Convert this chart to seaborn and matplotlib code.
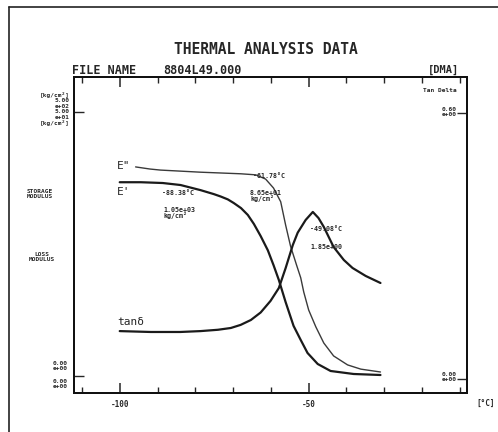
import matplotlib
matplotlib.use("Agg")
import matplotlib.pyplot as plt
import seaborn as sns
import pandas as pd
from matplotlib.lines import Line2D

# ---- data ----
temp_e1 = [-100, -94.4, -88.6, -83.9, -78.6, -75.1, -73.3, -71.4, -69.8, -67.9, -66.1, -64.5,
           -62.7, -60.8, -59.3, -57.9, -56.1, -54.0, -52.1, -50.3, -47.6, -44.2, -38.1, -31.0]
storage_mod = [367, 367, 365.5, 361.7, 352, 344.5, 340, 334.5, 327.5, 318, 305, 288,
               265, 238, 210, 182, 140, 95, 68.2, 43.6, 22.7, 9.5, 3.8, 1.9]

temp_e2 = [-95.8, -92.0, -89.2, -78.6, -68.0, -64.0, -61.4, -59.3, -57.4, -56.1, -54.8, -53.2,
           -52.1, -51.3, -50.0, -48.1, -46.0, -43.4, -39.7, -36.2, -31.0]
loss_mod = [39.6, 39.2, 39.0, 38.6, 38.3, 38.1, 37.3, 35.6, 33.0, 28.6, 24.6, 21.0,
            18.6, 15.9, 12.5, 9.3, 6.25, 3.8, 2.1, 1.3, 0.76]

temp_tan = [-100, -91.8, -84.0, -78.6, -74.0, -70.6, -68.0, -65.3, -62.7, -60.1, -57.9, -56.1,
            -54.2, -52.9, -50.8, -48.9, -47.4, -46.0, -43.4, -40.7, -38.4, -34.9, -31.0]
tan_delta = [0.108, 0.106, 0.106, 0.108, 0.111, 0.115, 0.122, 0.133, 0.150, 0.176, 0.205, 0.250,
             0.302, 0.330, 0.3586, 0.3767, 0.363, 0.343, 0.2977, 0.2684, 0.2504, 0.2323, 0.2165]

x_major = [-100, -50]
x_major_labels = ["-100", "-50"]
x_minor = [-110, -90, -80, -70, -60, -40, -30, -20, -10]

# ---- style ----
sns.set_style("white")
plt.rcParams["font.family"] = ["DejaVu Sans Mono", "DejaVu Sans"]
plt.rcParams["font.weight"] = "bold"

W, H = 498, 432
fig = plt.figure(figsize=(W / 100, H / 100), dpi=100)
ax = fig.add_axes([74 / W, 1 - 393 / H, (467 - 74) / W, (393 - 77) / H])
ax2 = ax.twinx()
ax3 = ax.twinx()

def P(x, y):
    return x / W, 1 - y / H

df1 = pd.DataFrame({"T": temp_e1, "v": storage_mod})
df2 = pd.DataFrame({"T": temp_e2, "v": loss_mod})
df3 = pd.DataFrame({"T": temp_tan, "v": tan_delta})

sns.lineplot(data=df1, x="T", y="v", ax=ax, color="#1a1a1a", lw=1.6)
sns.lineplot(data=df2, x="T", y="v", ax=ax2, color="#3a3a3a", lw=1.0)
sns.lineplot(data=df3, x="T", y="v", ax=ax3, color="#1a1a1a", lw=1.6)

xl = (-112.1, -8.1)
for a in (ax, ax2, ax3):
    a.set_xlim(*xl)
    a.set_xlabel("")
    a.set_ylabel("")
ax.set_ylim(-32.2, 566.3)
ax2.set_ylim(-3.22, 56.63)
ax3.set_ylim(-0.0316, 0.681)

ax.set_xticks(x_major)
ax.set_xticklabels(x_major_labels, fontsize=5.5, fontweight="bold")
ax.set_xticks(x_minor, minor=True)
ax.tick_params(axis="x", which="major", direction="in", length=7, width=1.1, top=True, bottom=True, pad=5)
ax.tick_params(axis="x", which="minor", direction="in", length=4, width=1, top=True, bottom=True)
ax.set_yticks([0, 500])
ax.set_yticklabels(["", ""])
ax.tick_params(axis="y", direction="in", length=7, width=1, left=True, right=False)
ax2.set_yticks([])
ax3.set_yticks([0, 0.6])
ax3.set_yticklabels(["", ""])
ax3.tick_params(axis="y", direction="in", length=7, width=1, right=True, left=False)

for a in (ax, ax2, ax3):
    for s in a.spines.values():
        s.set_linewidth(1.3)
        s.set_color("#111111")

# outer border
fig.add_artist(Line2D([9 / W, 9 / W], [0, 1 - 7 / H], transform=fig.transFigure, color="#222222", lw=1.2))
fig.add_artist(Line2D([9 / W, 1], [1 - 7 / H, 1 - 7 / H], transform=fig.transFigure, color="#222222", lw=1.2))

# ---- texts ----
fig.text(*P(266, 50), "THERMAL ANALYSIS DATA", ha="center", va="center", fontsize=10.5, fontweight="bold")
fig.text(*P(72, 70), "FILE NAME", ha="left", va="center", fontsize=8.5, fontweight="bold")
fig.text(*P(163, 70), "8804L49.000", ha="left", va="center", fontsize=8.5, fontweight="bold")
fig.text(*P(443, 70), "[DMA]", ha="center", va="center", fontsize=7.5, fontweight="bold")
fig.text(*P(486, 403), "[°C]", ha="center", va="center", fontsize=5.5, fontweight="bold")

small = dict(fontsize=4.4, fontweight="bold", linespacing=1.1)
fig.text(*P(70, 109), "[kg/cm²]\n5.00\ne+02\n5.00\ne+01\n[kg/cm²]", ha="right", va="center", multialignment="right", **small)
fig.text(*P(40, 194), "STORAGE\nMODULUS", ha="center", va="center", **small)
fig.text(*P(42, 257), "LOSS\nMODULUS", ha="center", va="center", **small)
fig.text(*P(68, 366), "0.00\ne+00", ha="right", va="center", multialignment="right", **small)
fig.text(*P(68, 384), "0.00\ne+00", ha="right", va="center", multialignment="right", **small)
fig.text(*P(457, 90), "Tan Delta", ha="right", va="center", **small)
fig.text(*P(457, 112), "0.60\ne+00", ha="right", va="center", multialignment="right", **small)
fig.text(*P(457, 377), "0.00\ne+00", ha="right", va="center", multialignment="right", **small)

fig.text(*P(117, 166), "E\"", ha="left", va="center", fontsize=8, fontweight="normal")
fig.text(*P(117, 192), "E'", ha="left", va="center", fontsize=8, fontweight="normal")
fig.text(*P(117, 322), "tanδ", ha="left", va="center", fontsize=8, fontweight="normal")

ann = dict(fontsize=4.8, fontweight="bold", linespacing=0.9)
fig.text(*P(162, 193), "-88.38°C", ha="left", va="center", **ann)
fig.text(*P(163, 213), "1.05e+03\nkg/cm²", ha="left", va="center", **ann)
fig.text(*P(253, 176), "-61.78°C", ha="left", va="center", **ann)
fig.text(*P(250, 196), "8.65e+01\nkg/cm²", ha="left", va="center", **ann)
fig.text(*P(310, 229), "-49.08°C", ha="left", va="center", **ann)
fig.text(*P(310, 247), "1.85e+00", ha="left", va="center", **ann)

fig.savefig("out.png", dpi=100, facecolor="white")
